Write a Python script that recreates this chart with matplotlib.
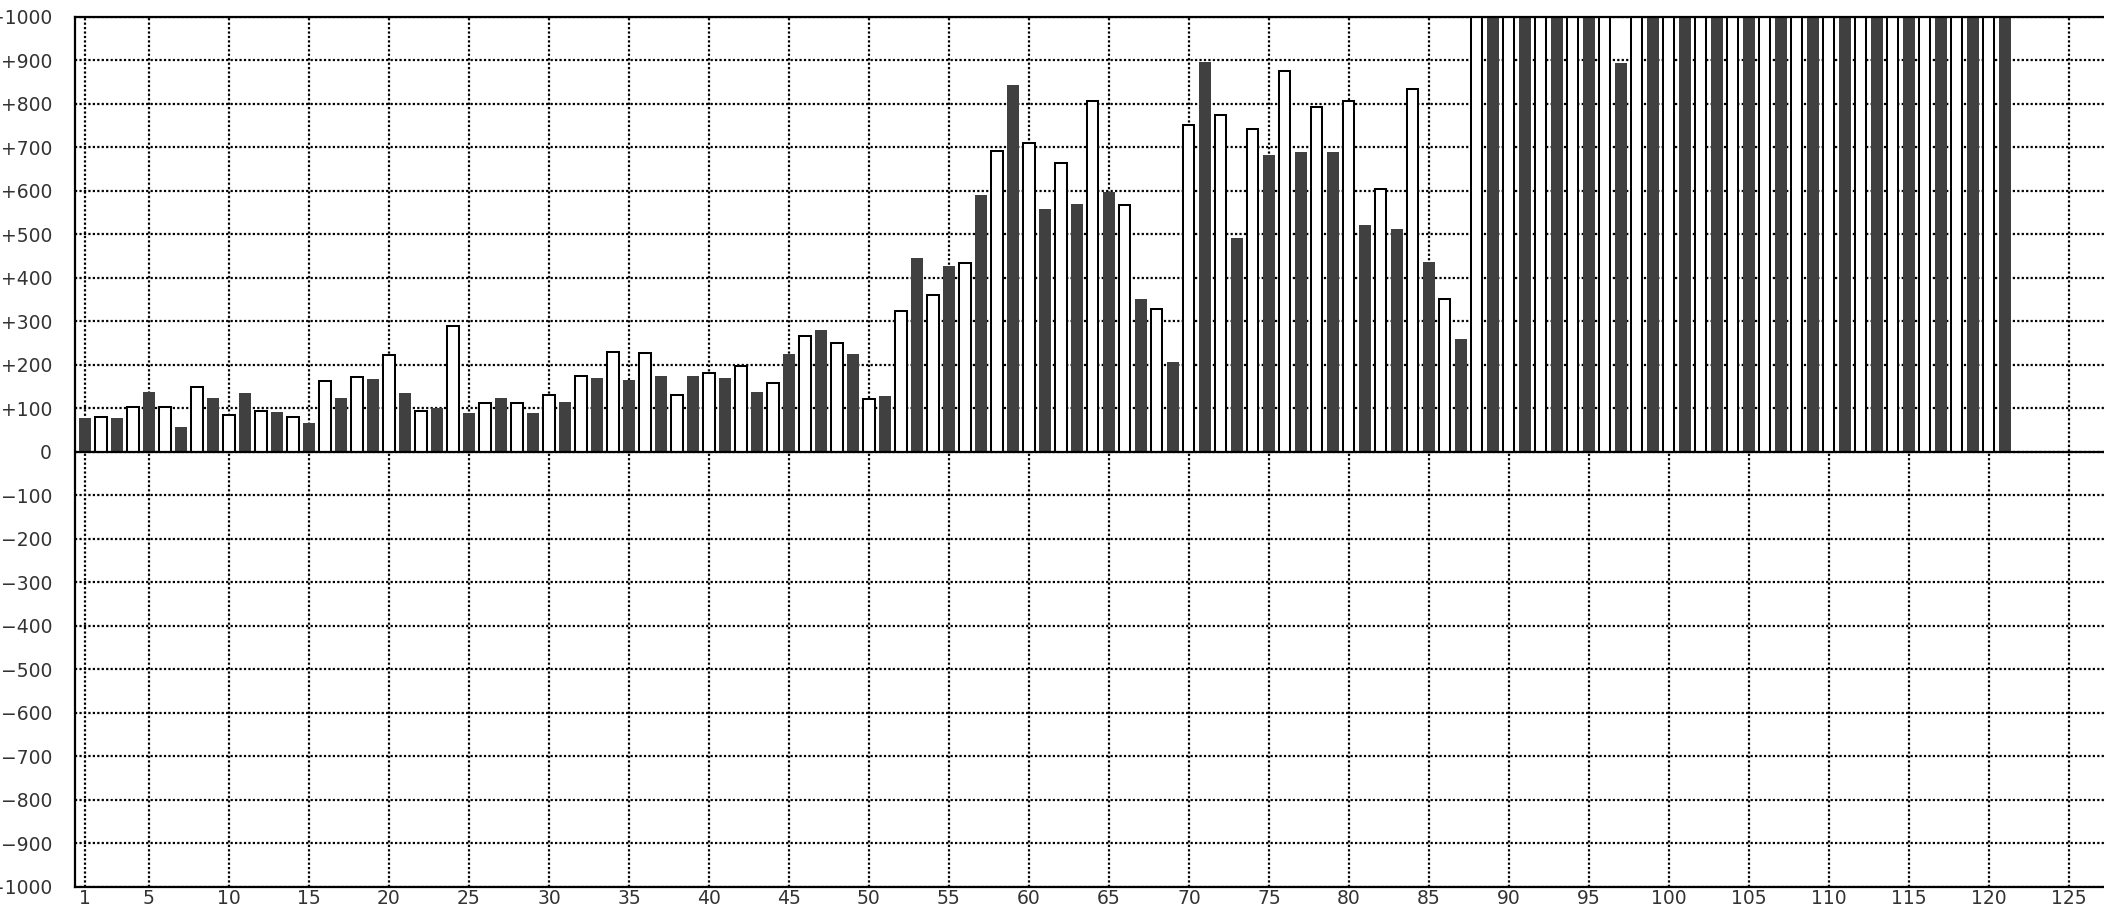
### ALTERNATING BAR CHART ###

import numpy as np
import matplotlib.pyplot as plt
from matplotlib.ticker import FuncFormatter

# Dark bars sit on the odd positions, white bars on the even ones
dark_pos = list(range(1, 122, 2))
dark_vals = [78, 78, 138, 56, 124, 134, 92, 65, 124, 166,
             134, 101, 88, 124, 88, 115, 170, 165, 174, 174,
             170, 138, 224, 279, 224, 129, 446, 428, 589, 842,
             557, 570, 598, 350, 207, 897, 492, 681, 690, 690,
             520, 511, 437, 258, 1000, 1000, 1000, 1000, 893, 1000,
             1000, 1000, 1000, 1000, 1000, 1000, 1000, 1000, 1000, 1000,
             1000]

white_pos = list(range(2, 121, 2))
white_vals = [80, 103, 103, 148, 85, 94, 80, 162, 171, 222,
              94, 290, 112, 112, 130, 175, 230, 227, 130, 181,
              198, 158, 267, 249, 121, 323, 360, 434, 692, 709,
              663, 806, 567, 328, 751, 774, 742, 875, 792, 806,
              604, 834, 351, 1000, 1000, 1000, 1000, 1000, 1000, 1000,
              1000, 1000, 1000, 1000, 1000, 1000, 1000, 1000, 1000, 1000]

x_ticks = [1] + list(range(5, 126, 5))
y_ticks = list(range(-1000, 1001, 100))


def signed(v, pos):
    # labels like +100, 0, −100
    if v > 0:
        return "+%d" % v
    if v < 0:
        return "\u2212%d" % abs(v)
    return "0"


plt.rcParams['font.family'] = ['DejaVu Sans']

fig = plt.figure(figsize=(21.04, 9.08), dpi=100)
ax = fig.add_axes([75 / 2104, 21.3 / 908, 1 - 75 / 2104, 870 / 908])

# grid behind the bars
ax.set_axisbelow(True)
ax.grid(True, color="black", linestyle=(0, (1, 1)), linewidth=1.6)

ax.bar(dark_pos, dark_vals, width=0.76, color="#404040", linewidth=0, zorder=2)
ax.bar(white_pos, white_vals, width=0.7, color="white", edgecolor="black",
       linewidth=1.45, zorder=2)

# zero line
ax.axhline(0, color="black", linewidth=1.6, zorder=3)

ax.set_xlim(0.375, 127.2)
ax.set_ylim(-1000, 1000)
ax.set_xticks(x_ticks)
ax.set_yticks(y_ticks)
ax.yaxis.set_major_formatter(FuncFormatter(signed))

ax.tick_params(axis="y", length=0, pad=16.5, labelsize=13.5, labelcolor="#333333")
ax.tick_params(axis="x", length=0, pad=2, labelsize=13.5, labelcolor="#333333")

for side in ["left", "top", "bottom"]:
    ax.spines[side].set_linewidth(1.6)
    ax.spines[side].set_color("black")
ax.spines["right"].set_visible(False)

fig.savefig("out.png", dpi=100)
